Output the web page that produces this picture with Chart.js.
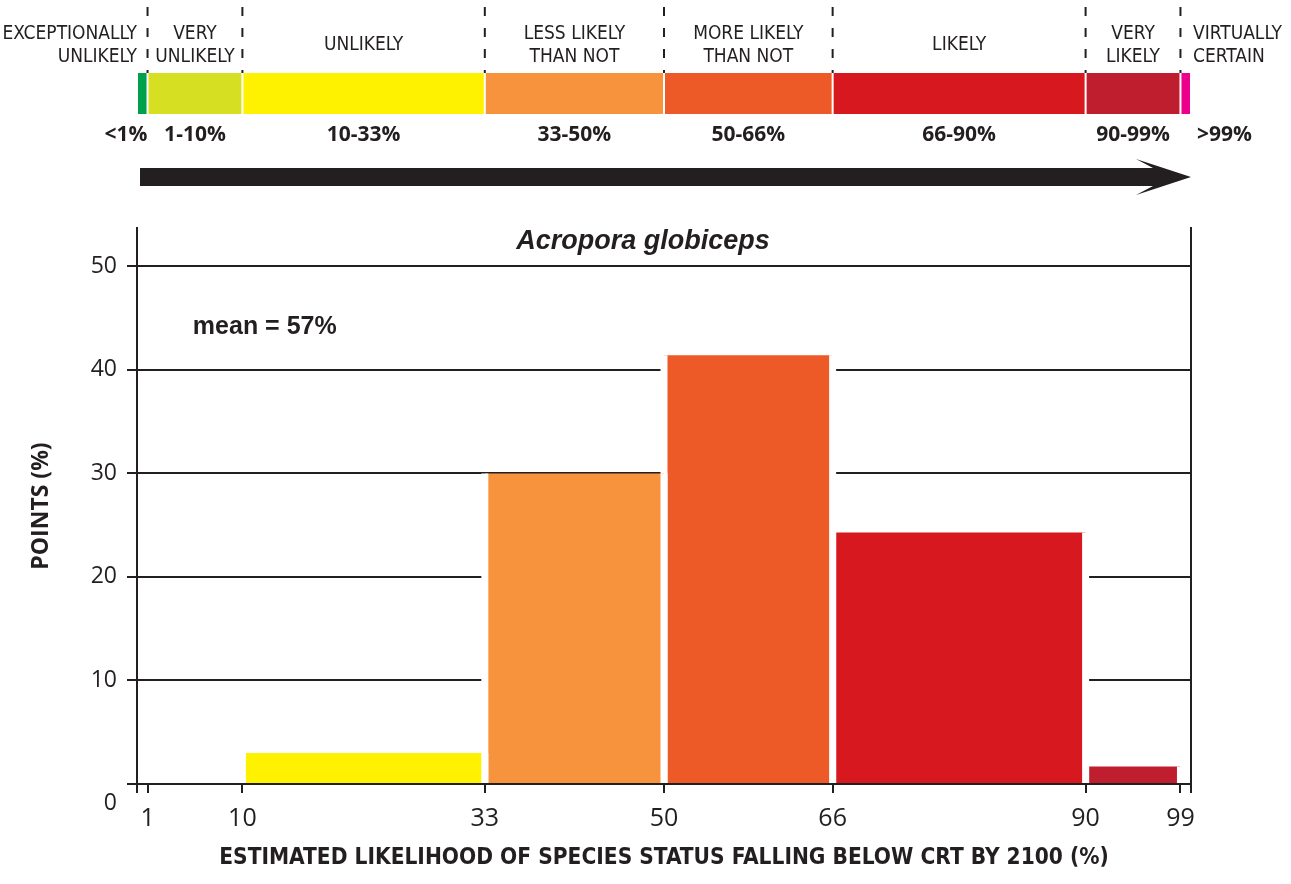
<!DOCTYPE html>
<html>
<head>
<meta charset="utf-8">
<script src="https://cdn.jsdelivr.net/npm/chart.js@4.4.1/dist/chart.umd.min.js"></script>
<style>
  html, body { margin: 0; padding: 0; background: #fff; }
  #wrap { width: 1291px; height: 884px; position: relative; }
</style>
</head>
<body>
<div id="wrap"><canvas id="likelihoodChart"></canvas></div>
<script>
// Histogram bins (x in %), heights = share of points (%)
const binLow = [10, 33, 50, 66, 90];
const binHigh = [33, 50, 66, 90, 99];
const pointsPct = [3.0, 30.0, 41.4, 24.3, 1.7];
const binColors = ["#fff200", "#f7933c", "#ee5a27", "#d7191f", "#bf1e2e"];

// Likelihood scale shown above the chart
const bandFrom = [0, 1, 10, 33, 50, 66, 90, 99];
const bandTo = [1, 10, 33, 50, 66, 90, 99, 100];
const bandNames = [
  ["EXCEPTIONALLY", "UNLIKELY"], ["VERY", "UNLIKELY"], ["UNLIKELY"], ["LESS LIKELY", "THAN NOT"],
  ["MORE LIKELY", "THAN NOT"], ["LIKELY"], ["VERY", "LIKELY"], ["VIRTUALLY", "CERTAIN"]
];
const bandRanges = ["<1%", "1-10%", "10-33%", "33-50%", "50-66%", "66-90%", "90-99%", ">99%"];
const bandColors = ["#00a14b", "#d7df23", "#fff200", "#f7933c", "#ee5a27", "#d7191f", "#bf1e2e", "#ec008c"];

const xTickValues = [0, 1, 10, 33, 50, 66, 90, 99, 100];
const yTickValues = [0, 10, 20, 30, 40, 50];

const speciesName = "Acropora globiceps";
const meanLikelihood = 57;

const INK = "#231f20";
const NARROW = '"Liberation Sans Narrow", "DejaVu Sans Condensed", sans-serif';

const bannerPlugin = {
  id: "banner",
  afterDraw(chart) {
    const { ctx, scales: { x, y } } = chart;
    const px = (v) => x.getPixelForValue(v);
    ctx.save();

    // colour strip
    bandFrom.forEach((from, i) => {
      const x0 = px(from), x1 = px(bandTo[i]);
      ctx.fillStyle = bandColors[i];
      ctx.fillRect(x0 + 1, 73, x1 - x0 - 2, 41);
    });

    // dashed separators
    ctx.strokeStyle = INK;
    ctx.lineWidth = 2;
    ctx.setLineDash([9, 12]);
    bandTo.slice(0, -1).forEach((v) => {
      ctx.beginPath();
      ctx.moveTo(px(v), 7);
      ctx.lineTo(px(v), 73);
      ctx.stroke();
    });
    ctx.setLineDash([]);

    // category names and ranges
    ctx.fillStyle = INK;
    ctx.textBaseline = "middle";
    const last = bandFrom.length - 1;
    bandNames.forEach((lines, i) => {
      let nx, rx;
      if (i === 0) {
        ctx.textAlign = "right";
        nx = px(bandFrom[i]);
        rx = px(bandTo[i]);
      } else if (i === last) {
        ctx.textAlign = "left";
        nx = px(bandTo[i]) + 2;
        rx = px(bandTo[i]) + 6;
      } else {
        ctx.textAlign = "center";
        nx = rx = px((bandFrom[i] + bandTo[i]) / 2);
      }
      ctx.font = "19px " + NARROW;
      if (lines.length === 1) {
        ctx.fillText(lines[0], nx, 45);
      } else {
        ctx.fillText(lines[0], nx, 34);
        ctx.fillText(lines[1], nx, 57);
      }
      ctx.font = 'bold 21px "Open Sans", sans-serif';
      ctx.fillText(bandRanges[i], rx, 135);
    });

    // arrow
    const ax0 = px(0) + 3, ax1 = px(100);
    ctx.fillStyle = INK;
    ctx.beginPath();
    ctx.moveTo(ax0, 168);
    ctx.lineTo(ax1 - 38, 168);
    ctx.lineTo(ax1 - 55, 159);
    ctx.lineTo(ax1, 177);
    ctx.lineTo(ax1 - 55, 195);
    ctx.lineTo(ax1 - 38, 186);
    ctx.lineTo(ax0, 186);
    ctx.closePath();
    ctx.fill();

    // species title and mean
    ctx.textAlign = "center";
    ctx.font = 'italic bold 27px "Liberation Sans", Arial, sans-serif';
    ctx.fillText(speciesName, px(48), y.getPixelForValue(52.4));
    ctx.textAlign = "left";
    ctx.font = 'bold 25px "Liberation Sans", Arial, sans-serif';
    ctx.fillText("mean = " + meanLikelihood + "%", px(5.3), y.getPixelForValue(44.1));

    ctx.restore();
  }
};

const datasets = binLow.map((lo, i) => ({
  data: [
    { x: lo, y: 0 },
    { x: lo, y: pointsPct[i] },
    { x: binHigh[i], y: pointsPct[i] },
    { x: binHigh[i], y: 0 }
  ],
  backgroundColor: binColors[i],
  borderColor: "#ffffff",
  borderWidth: 7,
  fill: "origin",
  pointRadius: 0,
  tension: 0,
  segment: {
    borderColor: (c) => (c.p0DataIndex === 1 ? "rgba(0,0,0,0)" : "#ffffff")
  }
}));

new Chart(document.getElementById("likelihoodChart"), {
  type: "line",
  data: { datasets: datasets },
  plugins: [bannerPlugin],
  options: {
    responsive: true,
    maintainAspectRatio: false,
    animation: false,
    layout: { padding: { top: 228, right: 100, bottom: 0, left: 0 } },
    plugins: {
      legend: { display: false },
      tooltip: { enabled: false }
    },
    scales: {
      x: {
        type: "linear",
        min: 0,
        max: 100,
        afterBuildTicks: (s) => { s.ticks = xTickValues.map((v) => ({ value: v })); },
        afterFit: (s) => { s.height = 100; },
        ticks: {
          autoSkip: false,
          maxRotation: 0,
          padding: 11,
          color: INK,
          font: { family: '"Open Sans", sans-serif', size: 25 },
          callback: (v) => (v === 0 || v === 100 ? "" : String(v))
        },
        grid: { drawOnChartArea: false, drawTicks: true, tickLength: 9, color: INK, lineWidth: 2 },
        border: { display: true, color: INK, width: 2, z: 1 },
        title: {
          display: true,
          text: "ESTIMATED LIKELIHOOD OF SPECIES STATUS FALLING BELOW CRT BY 2100 (%)",
          color: INK,
          font: { family: NARROW, size: 22.5, weight: "bold" },
          padding: { top: 0, bottom: 12 }
        }
      },
      y: {
        min: 0,
        max: 53.7,
        afterBuildTicks: (s) => { s.ticks = yTickValues.map((v) => ({ value: v })); },
        afterFit: (s) => { s.width = 137; },
        ticks: {
          padding: 10,
          color: INK,
          font: { family: '"Open Sans", sans-serif', size: 23, lineHeight: 1.65 },
          callback: (v) => (v === 0 ? ["", "0"] : String(v))
        },
        grid: { color: INK, lineWidth: 2, tickLength: 10 },
        border: { display: true, color: INK, width: 2, z: 1 },
        title: {
          display: true,
          text: "POINTS (%)",
          color: INK,
          font: { family: '"Open Sans", sans-serif', size: 23, weight: "bold" },
          padding: { top: 28, bottom: 0 }
        }
      },
      yRight: {
        position: "right",
        min: 0,
        max: 53.7,
        afterFit: (s) => { s.width = 0; },
        ticks: { display: false },
        grid: { drawOnChartArea: false, drawTicks: false },
        border: { display: true, color: INK, width: 2, z: 1 }
      }
    }
  }
});
</script>
</body>
</html>
